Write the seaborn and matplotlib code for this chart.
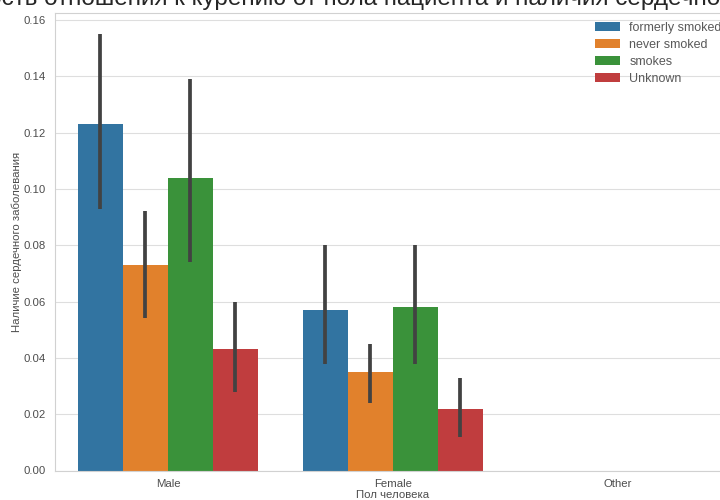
import matplotlib
matplotlib.use("Agg")
import matplotlib.pyplot as plt
import numpy as np
import pandas as pd
import seaborn as sns

genders = ["Male", "Female", "Other"]
smoking = ["formerly smoked", "never smoked", "smokes", "Unknown"]

male_means = [0.123, 0.073, 0.104, 0.043]
female_means = [0.057, 0.035, 0.058, 0.022]
male_lo = [0.093, 0.054, 0.074, 0.028]
male_hi = [0.155, 0.092, 0.139, 0.060]
female_lo = [0.038, 0.024, 0.038, 0.012]
female_hi = [0.080, 0.045, 0.080, 0.033]

title = "Зависимость отношения к курению от пола пациента и наличия сердечного заболевания"
xlabel = "Пол человека"
ylabel = "Наличие сердечного заболевания"

rows = []
for s, m, lo, hi in zip(smoking, male_means, male_lo, male_hi):
    rows.append(dict(gender="Male", smoking_status=s, heart_disease=m, lo=lo, hi=hi))
for s, m, lo, hi in zip(smoking, female_means, female_lo, female_hi):
    rows.append(dict(gender="Female", smoking_status=s, heart_disease=m, lo=lo, hi=hi))
df = pd.DataFrame(rows)

sns.set_style("whitegrid", {"grid.color": ".87", "axes.edgecolor": ".82"})
plt.rcParams["font.family"] = ["Liberation Sans", "DejaVu Sans"]

fig = plt.figure(figsize=(7.2, 5.0), dpi=100)
ax = fig.add_axes([0.077, 0.059, 0.9375, 0.915])

sns.barplot(data=df, x="gender", y="heart_disease", hue="smoking_status",
            order=genders, hue_order=smoking, errorbar=None, linewidth=0, ax=ax)

lookup = {(r.gender, r.smoking_status): (r.lo, r.hi) for r in df.itertuples()}
for level, container in zip(smoking, ax.containers):
    for bar in container:
        h = bar.get_height()
        if not np.isfinite(h):
            continue
        cx = bar.get_x() + bar.get_width() / 2
        g = genders[int(round(cx))]
        if (g, level) not in lookup:
            continue
        lo, hi = lookup[(g, level)]
        ax.plot([cx, cx], [lo, hi], color=".26", lw=2.7, solid_capstyle="butt", zorder=3)

ax.set_xlim(-0.5, 2.5)
ax.set_ylim(0, 0.1625)
ax.set_yticks(np.arange(0, 0.161, 0.02))
ax.yaxis.set_major_formatter(matplotlib.ticker.FormatStrFormatter("%.2f"))
ax.tick_params(labelsize=8.2, labelcolor=".3")
ax.tick_params(axis="x", pad=2.5)
ax.set_xlabel(xlabel, fontsize=8.2, labelpad=1, color=".3")
ax.set_ylabel(ylabel, fontsize=8.2, labelpad=0.8, color=".3")
ax.set_title(title, fontsize=17.5, pad=6)
leg = ax.legend(loc="upper right", frameon=False, fontsize=9, labelspacing=0.4,
                handlelength=2.0, handletextpad=0.72, borderaxespad=0.3)
for t in leg.get_texts():
    t.set_color(".35")

fig.savefig("out.png", dpi=100)
